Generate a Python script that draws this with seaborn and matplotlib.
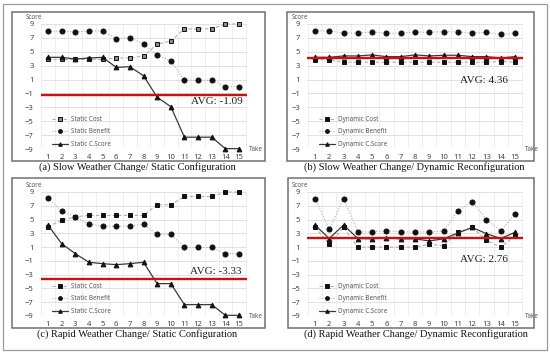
import matplotlib
matplotlib.use("Agg")
import matplotlib.pyplot as plt
import matplotlib.patches as patches
import seaborn as sns
import numpy as np

takes = list(range(1, 16))

# (a) Slow weather change / static configuration
a_cost = [3.9, 3.9, 3.9, 3.9, 3.9, 4.1, 4.1, 4.4, 6.1, 6.55, 8.3, 8.3, 8.3, 9.0, 9.0]
a_benefit = [7.95, 8.0, 7.85, 8.0, 8.0, 6.9, 7.05, 6.1, 4.5, 3.7, 0.9, 0.9, 0.9, 0.0, 0.0]
a_score = [4.2, 4.2, 3.95, 4.1, 4.2, 2.75, 2.85, 1.55, -1.55, -2.9, -7.3, -7.3, -7.3, -8.95, -8.95]
a_avg_line = -1.2
a_avg_text = "AVG: -1.09"

# (b) Slow weather change / dynamic reconfiguration
b_cost = [3.85, 3.85, 3.5, 3.5, 3.5, 3.5, 3.5, 3.5, 3.5, 3.5, 3.5, 3.5, 3.5, 3.6, 3.5]
b_benefit = [8.0, 8.0, 7.7, 7.7, 7.85, 7.7, 7.65, 7.85, 7.8, 7.9, 7.85, 7.7, 7.8, 7.5, 7.7]
b_score = [4.2, 4.2, 4.4, 4.4, 4.55, 4.3, 4.3, 4.55, 4.4, 4.5, 4.5, 4.3, 4.3, 4.1, 4.3]
b_avg_line = 4.1
b_avg_text = "AVG: 4.36"

# (c) Rapid weather change / static configuration
c_cost = [3.95, 4.9, 5.4, 5.6, 5.6, 5.6, 5.6, 5.6, 7.15, 7.15, 8.35, 8.35, 8.35, 9.0, 9.0]
c_benefit = [8.1, 6.25, 5.4, 4.3, 4.1, 4.0, 4.1, 4.3, 2.85, 2.85, 0.95, 0.95, 0.95, 0.05, 0.05]
c_score = [4.2, 1.5, 0.05, -1.2, -1.4, -1.55, -1.4, -1.2, -4.3, -4.3, -7.35, -7.35, -7.35, -8.9, -8.9]
c_avg_line = -3.6
c_avg_text = "AVG: -3.33"

# (d) Rapid weather change / dynamic reconfiguration
d_cost = [3.85, 1.45, 3.85, 1.0, 1.0, 1.0, 1.0, 1.0, 1.4, 1.2, 3.2, 3.85, 2.0, 1.0, 2.6]
d_benefit = [8.05, 3.6, 8.05, 3.2, 3.2, 3.4, 3.2, 3.2, 3.2, 3.35, 6.25, 7.6, 5.0, 3.35, 5.85]
d_score = [4.2, 2.25, 4.2, 2.25, 2.2, 2.35, 2.2, 2.2, 1.9, 2.2, 3.05, 3.85, 2.95, 2.25, 3.15]
d_avg_line = 2.35
d_avg_text = "AVG: 2.76"

captions = [
    "(a) Slow Weather Change/ Static Configuration",
    "(b) Slow Weather Change/ Dynamic Reconfiguration",
    "(c) Rapid Weather Change/ Static Configuration",
    "(d) Rapid Weather Change/ Dynamic Reconfiguration",
]
y_ticks = [9, 7, 5, 3, 1, -1, -3, -5, -7, -9]

sns.set_theme(style="white")
plt.rcParams["font.family"] = ["Noto Sans", "DejaVu Sans"]

W, H = 550, 354
fig = plt.figure(figsize=(5.5, 3.54), dpi=100)
fig.patch.set_facecolor("white")


def rect(x0, y0, x1, y1):
    return [x0 / W, 1 - y1 / H, (x1 - x0) / W, (y1 - y0) / H]


# outer frame
fig.add_artist(patches.Rectangle((3 / W, 1 - 350 / H), 544 / W, 346 / H,
                                 transform=fig.transFigure, fill=False,
                                 edgecolor="#9a9a9a", lw=0.9))
# panel boxes
boxes = [(12, 12, 265, 161), (287, 12, 534, 161), (12, 178, 265, 328), (288, 178, 534, 328)]
for (x0, y0, x1, y1) in boxes:
    fig.add_artist(patches.Rectangle((x0 / W, 1 - y1 / H), (x1 - x0) / W, (y1 - y0) / H,
                                     transform=fig.transFigure, fill=False,
                                     edgecolor="#707070", lw=1.1))

# axes (pixel positions)
ax_rects = [
    rect(40.5, 24, 246.5, 149),
    rect(307.1, 24, 522.9, 149),
    rect(40.5, 192, 246.5, 316),
    rect(307.1, 192, 522.9, 316),
]
panels = [
    (a_cost, a_benefit, a_score, a_avg_line, a_avg_text, "Static", (15.3, -2.15), True),
    (b_cost, b_benefit, b_score, b_avg_line, b_avg_text, "Dynamic", (14.5, 0.85), False),
    (c_cost, c_benefit, c_score, c_avg_line, c_avg_text, "Static", (15.15, -2.47), False),
    (d_cost, d_benefit, d_score, d_avg_line, d_avg_text, "Dynamic", (14.5, -0.8), False),
]
cap_pos = [(137, 167), (414, 167), (137, 334), (416, 334)]

for i, (r, p) in enumerate(zip(ax_rects, panels)):
    cost, ben, score, avg_line, avg_text, kind, tpos, hollow = p
    ax = fig.add_axes(r)
    ax.set_facecolor("white")
    for s in ax.spines.values():
        s.set_visible(False)
    ax.set_xlim(0.45, 15.55)
    ax.set_ylim(-9, 9)
    ax.set_yticks(y_ticks)
    ax.set_xticks(takes)
    ax.set_xticks(np.arange(0.5, 15.6, 0.5), minor=True)
    ax.grid(True, which="major", axis="y", color="#dcdcdc", lw=0.6)
    ax.grid(True, which="minor", axis="x", color="#ececec", lw=0.6)
    ax.tick_params(axis="both", which="both", length=0, labelsize=5.5,
                   labelcolor="#444")
    ax.tick_params(axis="y", pad=5)
    ax.tick_params(axis="x", pad=3.5)

    sns.lineplot(x=takes, y=cost, ax=ax, color="#b0b0b0", lw=0.8,
                 linestyle=(0, (3, 2)), marker="s", markersize=3.0,
                 markerfacecolor="#8a8a8a" if hollow else "#111",
                 markeredgecolor="#111", markeredgewidth=0.7,
                 label=f"{kind} Cost", clip_on=False, zorder=3)
    sns.lineplot(x=takes, y=ben, ax=ax, color="#b0b0b0", lw=0.8,
                 linestyle=(0, (1, 1.5)), marker="o", markersize=3.6,
                 markerfacecolor="#111", markeredgecolor="#111",
                 label=f"{kind} Benefit", clip_on=False, zorder=3)
    sns.lineplot(x=takes, y=score, ax=ax, color="#3a3a3a", lw=0.9,
                 marker="^", markersize=3.4, markerfacecolor="#111",
                 markeredgecolor="#111", label=f"{kind} C.Score",
                 clip_on=False, zorder=4)
    ax.axhline(avg_line, color="#cc1010", lw=1.7, zorder=6)
    ax.text(tpos[0], tpos[1], avg_text, ha="right", va="center",
            fontsize=8, family="Liberation Serif", color="#222", zorder=7)

    ax.annotate("Score", xy=(0, 1), xycoords="axes fraction",
                xytext=(-11, 4.5), textcoords="offset points",
                ha="left", va="center", fontsize=4.5, color="#555")
    ax.annotate("Take", xy=(1, 0), xycoords="axes fraction",
                xytext=(1.5, 0), textcoords="offset points",
                ha="left", va="center", fontsize=4.5, color="#555")

    leg = ax.legend(loc="lower left", bbox_to_anchor=(0.055, 0.01),
                    frameon=False, fontsize=4.5, handlelength=2.6,
                    handletextpad=0.5, labelspacing=0.85, borderpad=0,
                    borderaxespad=0, markerscale=0.75)
    for t in leg.get_texts():
        t.set_color("#555")

    cx, cy = cap_pos[i]
    fig.text(cx / W, 1 - cy / H, captions[i], ha="center", va="center",
             fontsize=7.5, family="Liberation Serif", color="#111")

fig.savefig("out.png", dpi=100, facecolor="white")
